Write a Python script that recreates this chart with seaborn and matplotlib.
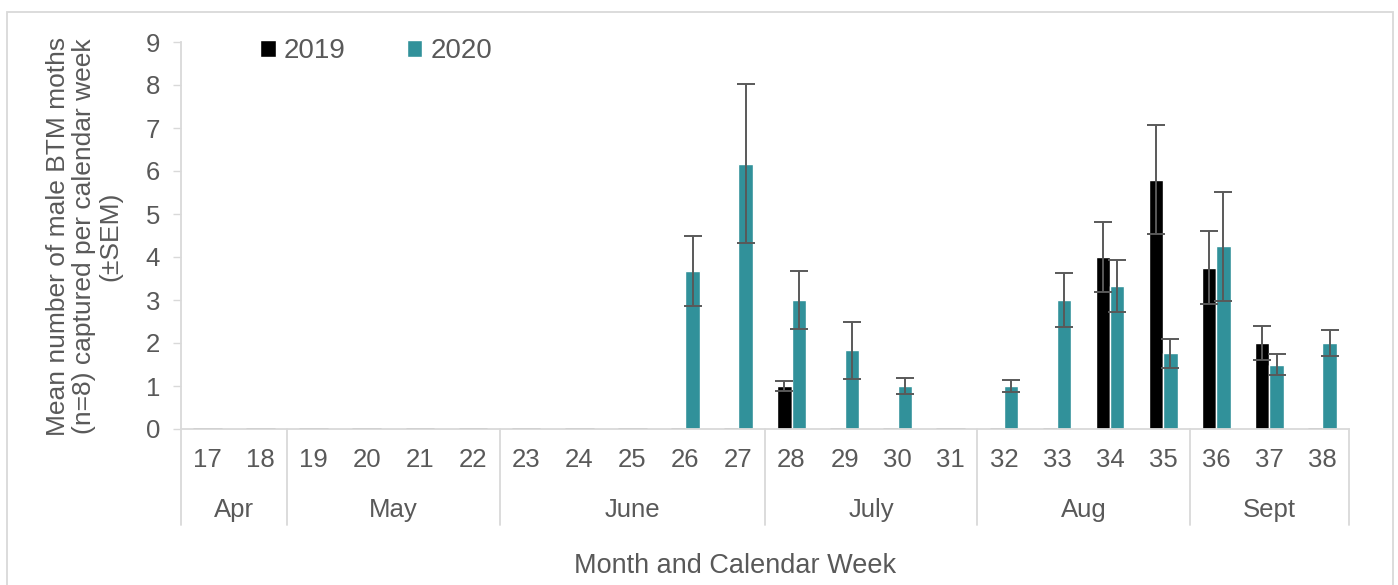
import matplotlib
matplotlib.use("Agg")
import matplotlib.pyplot as plt
import matplotlib.transforms as mtransforms
from matplotlib.patches import Rectangle
import seaborn as sns
import pandas as pd

# data
weeks = [str(w) for w in range(17, 39)]
months = ["Apr", "May", "June", "July", "Aug", "Sept"]
month_sizes = [2, 4, 5, 4, 4, 3]
years = ["2019", "2020"]
mean_2019 = [0, 0, 0, 0, 0, 0, 0, 0, 0, 0, 0, 1.0, 0, 0, 0, 0, 0, 4.0, 5.8, 3.75, 2.0, 0]
sem_2019 = [0, 0, 0, 0, 0, 0, 0, 0, 0, 0, 0, 0.12, 0, 0, 0, 0, 0, 0.81, 1.27, 0.85, 0.4, 0]
mean_2020 = [0, 0, 0, 0, 0, 0, 0, 0, 0, 3.67, 6.17, 3.0, 1.83, 1.0, 0, 1.0, 3.0, 3.33, 1.76, 4.25, 1.5, 2.0]
sem_2020 = [0, 0, 0, 0, 0, 0, 0, 0, 0, 0.82, 1.85, 0.67, 0.67, 0.18, 0, 0.15, 0.62, 0.6, 0.33, 1.27, 0.25, 0.31]

teal = "#31919a"
grey_txt = "#595959"
grey_line = "#d9d9d9"

sns.set_style("white")
plt.rcParams["font.family"] = ["Liberation Sans", "DejaVu Sans"]

df = pd.DataFrame({
    "week": weeks * 2,
    "year": ["2019"] * len(weeks) + ["2020"] * len(weeks),
    "mean": mean_2019 + mean_2020,
})
sems = {"2019": sem_2019, "2020": sem_2020}
means = {"2019": mean_2019, "2020": mean_2020}

fig = plt.figure(figsize=(13.98, 5.85), dpi=100)
ax = fig.add_axes([181 / 1398, 1 - 429 / 585, (1349 - 181) / 1398, (429 - 42) / 585])

sns.barplot(data=df, x="week", y="mean", hue="year", order=weeks, hue_order=years,
            palette={"2019": "black", "2020": teal}, width=0.54, errorbar=None,
            saturation=1, ax=ax)

# zero bars show as a thin grey line, error bars from SEM
for cont, yr in zip(ax.containers, years):
    for p in cont.patches:
        xc = p.get_x() + p.get_width() / 2
        i = int(round(xc))
        if p.get_height() == 0:
            p.set_edgecolor("#a6a6a6")
            p.set_linewidth(1)
            p.set_zorder(3)
        if sems[yr][i] > 0:
            ax.errorbar(xc, means[yr][i], yerr=sems[yr][i], fmt="none",
                        ecolor="#595959", elinewidth=1.4, capsize=6.5, capthick=1.4)

ax.set_xlim(-0.5, len(weeks) - 0.5)
ax.set_ylim(0, 9)
ax.set_yticks(range(10))
ax.set_xlabel("")
ax.set_ylabel("")
sns.despine(ax=ax)
for s in ["left", "bottom"]:
    ax.spines[s].set_color(grey_line)
    ax.spines[s].set_linewidth(1.3)
ax.tick_params(axis="y", length=6, width=1, color=grey_line, pad=9,
               labelsize=18.5, labelcolor=grey_txt, left=True)
ax.tick_params(axis="x", length=0, pad=14, labelsize=18.5, labelcolor=grey_txt)

# month level of the category axis
trans = mtransforms.blended_transform_factory(ax.transData, ax.transAxes)
start = -0.5
ax.plot([start, start], [0, -0.248], transform=trans, color=grey_line, lw=1.3, clip_on=False)
for name, n in zip(months, month_sizes):
    end = start + n
    ax.plot([end, end], [0, -0.248], transform=trans, color=grey_line, lw=1.3, clip_on=False)
    ax.text((start + end) / 2, -0.21, name, transform=trans, ha="center", va="center",
            fontsize=18.5, color=grey_txt)
    start = end

handles, labels = ax.get_legend_handles_labels()
ax.legend(handles, labels, loc="upper left", bbox_to_anchor=(0.068, 1.01), ncol=2,
          frameon=False, fontsize=20, handlelength=0.55, handleheight=0.55,
          handletextpad=0.3, columnspacing=2.2, borderaxespad=0, borderpad=0,
          labelcolor=grey_txt)

fig.text(84 / 1398, 1 - 236 / 585,
         "Mean number of male BTM moths\n(n=8) captured per calendar week\n(±SEM)",
         rotation=90, ha="center", va="center", multialignment="center",
         fontsize=19, color=grey_txt, linespacing=1.12)
fig.text(735 / 1398, 1 - 566 / 585, "Month and Calendar Week", ha="center", va="center",
         fontsize=19.5, color=grey_txt)

fig.patches.append(Rectangle((7 / 1398, -0.02), (1393 - 7) / 1398, 1 - 12 / 585 + 0.02,
                             transform=fig.transFigure, fill=False,
                             edgecolor=grey_line, lw=1.3))

fig.savefig("out.png", dpi=100)
